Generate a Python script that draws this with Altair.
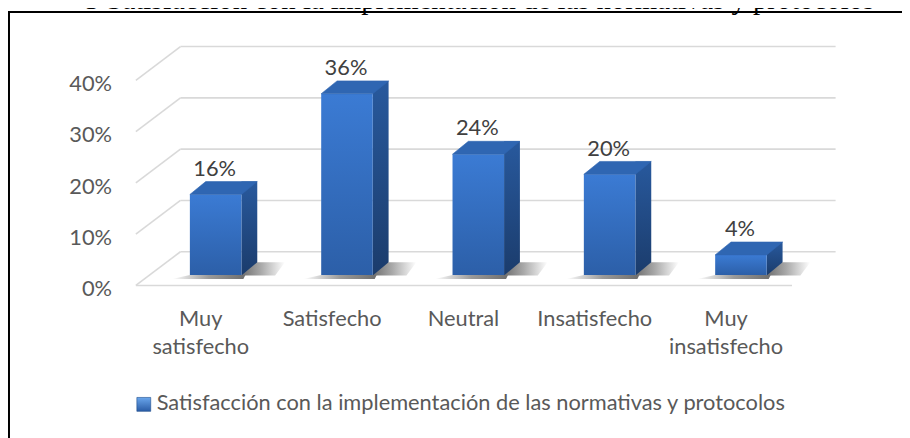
import altair as alt
import pandas as pd

# ---- data ----
categories = ["Muy satisfecho", "Satisfecho", "Neutral", "Insatisfecho", "Muy insatisfecho"]
category_lines = ["Muy\nsatisfecho", "Satisfecho", "Neutral", "Insatisfecho", "Muy\ninsatisfecho"]
values = [16, 36, 24, 20, 4]
value_labels = ["16%", "36%", "24%", "20%", "4%"]
tick_values = [0, 10, 20, 30, 40]
tick_labels = ["0%", "10%", "20%", "30%", "40%"]
series_name = "Satisfacción con la implementación de las normativas y protocolos"
caption = "5 Satisfacción con la implementación de las normativas y protocolos"

bars = pd.DataFrame({"cat": categories, "label": category_lines, "pct": values,
                     "txt": value_labels, "base": [0] * len(values)})
ticks = pd.DataFrame({"v": tick_values, "txt": tick_labels})
floor = pd.DataFrame({"v": [0]})
legend = pd.DataFrame({"name": [series_name]})
cap = pd.DataFrame({"t": [caption]})

FONT = "Lato"
GRID = "#d9d9d9"

xs = alt.Scale(domain=categories, range=[143.25, 805.75], paddingInner=0, paddingOuter=0)
ybar = alt.Scale(domain=[0, 40], range=[267.5, 64.3], nice=False, zero=False)
yback = alt.Scale(domain=[0, 40], range=[244, 37], nice=False, zero=False)
X = alt.X("cat:N", scale=xs, axis=None)


def grad(stops, x2=0, y2=1):
    return alt.LinearGradient(
        gradient="linear",
        stops=[alt.GradientStop(color=c, offset=o) for o, c in stops],
        x1=0, y1=0, x2=x2, y2=y2)


front_fill = grad([(0, "#3b7bd4"), (1, "#2c5fa8")])
side_fill = grad([(0, "#28599d"), (1, "#1b3c6c")])
top_fill = "#2f66b2"
shadow_fill = grad([(0, "#6e6e6e"), (0.45, "#a9a9a9"), (1, "#ffffff")], x2=1, y2=0)
under_fill = grad([(0, "#ffffff"), (0.5, "#9a9a9a"), (1, "#6e6e6e")], x2=1, y2=0)
legend_fill = grad([(0, "#6aa6ec"), (1, "#2a5ca6")])

box = alt.Chart(cap).mark_rect(fill="white", fillOpacity=0, stroke="black", strokeWidth=2).encode(
    x=alt.value(1), x2=alt.value(960), y=alt.value(2), y2=alt.value(480))

grid = alt.Chart(ticks).mark_rule(color=GRID, strokeWidth=1.6).encode(
    y=alt.Y("v:Q", scale=yback, axis=None), x=alt.value(174), x2=alt.value(835))

diag = alt.Chart(ticks).mark_rule(color=GRID, strokeWidth=1.6, yOffset=34, y2Offset=0).encode(
    y=alt.Y("v:Q", scale=yback, axis=None), y2=alt.Y2("v:Q"),
    x=alt.value(129), x2=alt.value(174))

floor_line = alt.Chart(floor).mark_rule(color=GRID, strokeWidth=1.6, yOffset=34).encode(
    y=alt.Y("v:Q", scale=yback, axis=None), x=alt.value(129), x2=alt.value(791))

shadow_under = alt.Chart(bars).mark_point(
    shape="M -44 4 L 28 4 L 30 0 L -26 0 Z", size=4, filled=True, opacity=1,
    fill=under_fill, strokeWidth=0).encode(
    x=X, y=alt.Y("base:Q", scale=ybar, axis=None))

side = alt.Chart(bars).mark_bar(width=16, xOffset=34, yOffset=-13, y2Offset=0, fill=side_fill).encode(
    x=X, y=alt.Y("pct:Q", scale=ybar, axis=None), y2=alt.Y2("base:Q"))

shadow_right = alt.Chart(bars).mark_point(
    shape="M 26 0.5 L 60 0.5 L 70 -13 L 42 -13 Z", size=4, filled=True, opacity=1,
    fill=shadow_fill, strokeWidth=0).encode(
    x=X, y=alt.Y("base:Q", scale=ybar, axis=None))

front = alt.Chart(bars).mark_bar(width=52, fill=front_fill).encode(
    x=X, y=alt.Y("pct:Q", scale=ybar, axis=None), y2=alt.Y2("base:Q"))

top = alt.Chart(bars).mark_point(
    shape="M -26 0 L 26 0 L 42 -13 L -10 -13 Z", size=4, filled=True, opacity=1,
    fill=top_fill, stroke=top_fill, strokeWidth=0.6).encode(
    x=X, y=alt.Y("pct:Q", scale=ybar, axis=None))

vals = alt.Chart(bars).mark_text(font=FONT, fontSize=22, color="#404040", dy=-19, dx=-1,
                                 baseline="alphabetic").encode(
    x=X, y=alt.Y("pct:Q", scale=ybar, axis=None), text="txt:N")

ylab = alt.Chart(ticks).mark_text(font=FONT, fontSize=22, color="#595959", align="right",
                                  baseline="middle", yOffset=38).encode(
    x=alt.value(105), y=alt.Y("v:Q", scale=yback, axis=None), text="txt:N")

xlab = alt.Chart(bars).mark_text(font=FONT, fontSize=22, color="#595959", lineBreak="\n",
                                 lineHeight=28.5, baseline="alphabetic", dx=-15).encode(
    x=X, y=alt.value(319), text="label:N")

leg_sq = alt.Chart(legend).mark_square(size=196, filled=True, opacity=1, fill=legend_fill,
                                       stroke="#1f4e8c", strokeWidth=0.6).encode(
    x=alt.value(137), y=alt.value(398))

leg_txt = alt.Chart(legend).mark_text(font=FONT, fontSize=22, color="#595959", align="left",
                                      baseline="alphabetic").encode(
    x=alt.value(150), y=alt.value(404), text="name:N")

title = alt.Chart(cap).mark_text(font="Liberation Serif", fontSize=29, color="black",
                                 align="right", baseline="alphabetic").encode(
    x=alt.value(874), y=alt.value(-1), text="t:N")

chart = alt.layer(
    box, grid, diag, floor_line, shadow_under, side, shadow_right, front, top,
    vals, ylab, xlab, leg_sq, leg_txt, title
).resolve_scale(y="independent").properties(
    width=902, height=430, autosize=alt.AutoSizeParams(type="none"), padding=0
).configure_view(strokeWidth=0)

chart.save("out.html", embed_options={"renderer": "svg", "actions": False})
